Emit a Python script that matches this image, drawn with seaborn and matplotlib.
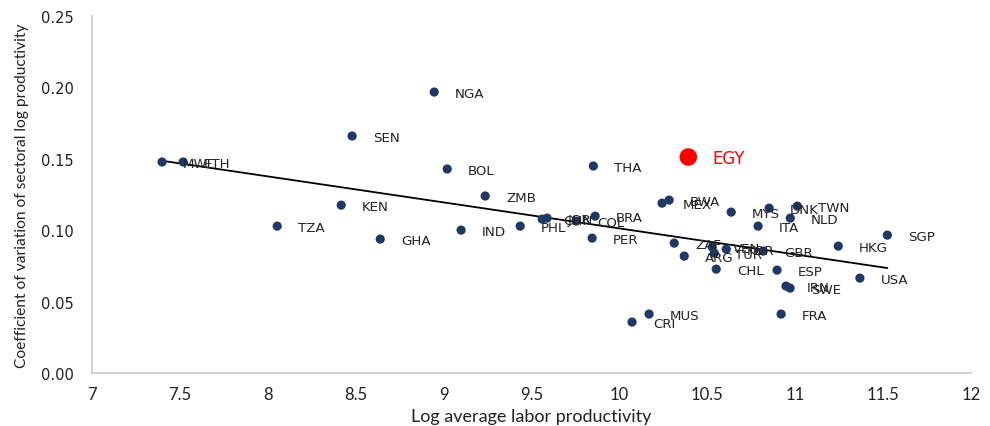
import matplotlib
matplotlib.use("Agg")
import matplotlib.pyplot as plt
import seaborn as sns
import pandas as pd

countries = ["MWI", "ETH", "NGA", "SEN", "BOL", "THA", "ZMB", "KEN", "TZA", "GHA",
             "IND", "PHL", "CHN", "JOR", "COL", "BRA", "PER", "MEX", "BWA", "MYS",
             "DNK", "TWN", "NLD", "ITA", "ZAF", "VEN", "KOR", "GBR", "ARG", "TUR",
             "HKG", "SGP", "CHL", "ESP", "USA", "IRN", "SWE", "FRA", "MUS", "CRI"]
log_prod = [7.398, 7.518, 8.946, 8.479, 9.020, 9.851, 9.236, 8.417, 8.053, 8.639,
            9.099, 9.435, 9.560, 9.588, 9.753, 9.861, 9.844, 10.242, 10.282, 10.635,
            10.851, 11.011, 10.971, 10.788, 10.311, 10.527, 10.607, 10.817, 10.368, 10.539,
            11.244, 11.523, 10.550, 10.896, 11.367, 10.947, 10.970, 10.919, 10.168, 10.071]
coef_var = [0.1478, 0.1478, 0.1968, 0.1660, 0.1429, 0.1450, 0.1240, 0.1176, 0.1029, 0.0938,
            0.1001, 0.1029, 0.1078, 0.1085, 0.1064, 0.1099, 0.0945, 0.1190, 0.1211, 0.1127,
            0.1155, 0.1169, 0.1085, 0.1029, 0.0910, 0.0882, 0.0868, 0.0854, 0.0819, 0.0840,
            0.0889, 0.0966, 0.0728, 0.0721, 0.0665, 0.0609, 0.0595, 0.0413, 0.0413, 0.0357]

egy_label = "EGY"
egy_prod = 10.391
egy_cv = 0.1513

x_ticks = [7, 7.5, 8, 8.5, 9, 9.5, 10, 10.5, 11, 11.5, 12]
y_ticks = [0.00, 0.05, 0.10, 0.15, 0.20, 0.25]

df = pd.DataFrame({"country": countries, "prod": log_prod, "cv": coef_var})

sns.set_theme(style="white")
plt.rcParams["font.family"] = ["DejaVu Sans"]

fig = plt.figure(figsize=(9.9, 4.27), dpi=100)
ax = fig.add_axes([0.093, 0.124, 0.888, 0.836])

navy = "#1f3864"
sns.regplot(data=df, x="prod", y="cv", ax=ax, ci=None, truncate=True,
            scatter_kws=dict(s=44, color=navy, alpha=1, edgecolors="none", zorder=3),
            line_kws=dict(color="black", lw=1.3, zorder=2))

for name, xv, yv in zip(countries, log_prod, coef_var):
    ax.annotate(name, (xv, yv), xytext=(15, -1), textcoords="offset points",
                fontsize=9.6, color="#222222", va="center", ha="left", zorder=4)

ax.scatter([egy_prod], [egy_cv], s=160, color="#ff0000", edgecolors="none", zorder=5)
ax.annotate(egy_label, (egy_prod, egy_cv), xytext=(17, -1), textcoords="offset points",
            fontsize=12, color="#ff0000", va="center", ha="left", zorder=5)

ax.set_xlim(7, 12)
ax.set_ylim(0, 0.25)
ax.set_xticks(x_ticks)
ax.set_xticklabels([f"{t:g}" for t in x_ticks], family="Lato", fontsize=12)
ax.set_yticks(y_ticks)
ax.set_yticklabels([f"{t:.2f}" for t in y_ticks], fontsize=10.5)
ax.tick_params(axis="both", length=0, colors="#222222")
ax.tick_params(axis="y", pad=13)
ax.tick_params(axis="x", pad=9)

ax.set_xlabel("Log average labor productivity", family="Lato", fontsize=13,
              color="#222222", labelpad=5)
ax.set_ylabel("Coefficient of variation of sectoral log productivity", family="Lato",
              fontsize=11.2, color="#222222", labelpad=9)

for side in ["top", "right"]:
    ax.spines[side].set_visible(False)
for side in ["left", "bottom"]:
    ax.spines[side].set_color("#c8c8c8")
    ax.spines[side].set_linewidth(1.2)

fig.savefig("out.png", dpi=100)
